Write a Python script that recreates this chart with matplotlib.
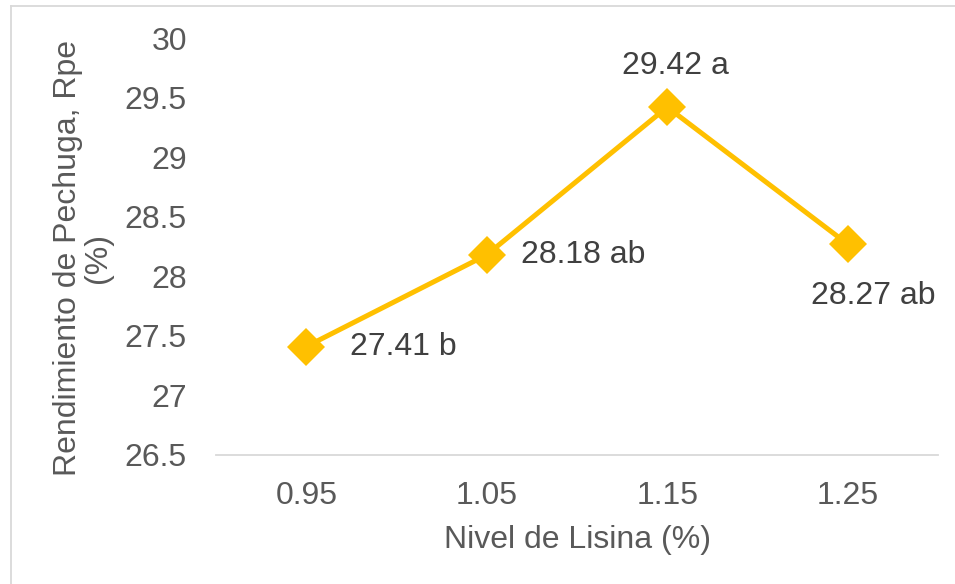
import matplotlib
matplotlib.use("Agg")
import matplotlib.pyplot as plt
from matplotlib.lines import Line2D

plt.rcParams['font.family'] = ['Liberation Sans', 'DejaVu Sans']

# Lysine level (categorical) vs breast yield
categories = ["0.95", "1.05", "1.15", "1.25"]
values = [27.41, 28.18, 29.42, 28.27]
letters = ["b", "ab", "a", "ab"]
y_ticks = [26.5, 27, 27.5, 28, 28.5, 29, 29.5, 30]

# label offsets in pixels (dx, dy), with alignment
label_pos = [
    ((44, 0), "left", "center"),
    ((34, 0), "left", "center"),
    ((8, 41), "center", "center"),
    ((25, -52), "center", "center"),
]

FS = 23
W, H = 955, 584
fig = plt.figure(figsize=(W / 100, H / 100), dpi=100)
ax = fig.add_axes([216 / W, 1 - 455 / H, (938 - 216) / W, (455 - 38) / H])

x = list(range(len(categories)))
ax.plot(x, values, color="#FFC000", lw=3.6, marker="D", ms=19,
        markeredgewidth=0, markerfacecolor="#FFC000", solid_capstyle="round",
        zorder=3)

for xi, v, let, ((dx, dy), ha, va) in zip(x, values, letters, label_pos):
    ax.annotate(f"{v:.2f} {let}", (xi, v), xytext=(dx * 0.72, dy * 0.72),
                textcoords="offset points", ha=ha, va=va, fontsize=FS,
                color="#404040")

ax.set_xlim(-0.5, len(categories) - 0.5)
ax.set_ylim(26.5, 30)
ax.set_xticks(x)
ax.set_xticklabels(categories)
ax.set_yticks(y_ticks)
ax.set_yticklabels([f"{t:g}" for t in y_ticks])
ax.tick_params(axis="both", length=0, labelsize=FS, labelcolor="#595959")
ax.tick_params(axis="y", pad=21)
ax.tick_params(axis="x", pad=19)

for s in ("top", "right", "left"):
    ax.spines[s].set_visible(False)
ax.spines["bottom"].set_color("#D9D9D9")
ax.spines["bottom"].set_linewidth(1.3)

fig.text(577 / W, 1 - 540 / H, "Nivel de Lisina (%)", ha="center", va="center",
         fontsize=FS, color="#595959")
fig.text(83 / W, 1 - 258 / H, "Rendimiento de Pechuga, Rpe\n(%)", ha="center",
         va="center", rotation=90, fontsize=FS, color="#595959",
         multialignment="center", linespacing=1.0)

# chart frame
frame_color = "#D9D9D9"
fig.add_artist(Line2D([10.5 / W, 10.5 / W], [0, 1 - 6 / H], transform=fig.transFigure,
                      color=frame_color, lw=1.3))
fig.add_artist(Line2D([10.5 / W, 1], [1 - 6 / H, 1 - 6 / H], transform=fig.transFigure,
                      color=frame_color, lw=1.3))

fig.savefig("out.png", dpi=100)
